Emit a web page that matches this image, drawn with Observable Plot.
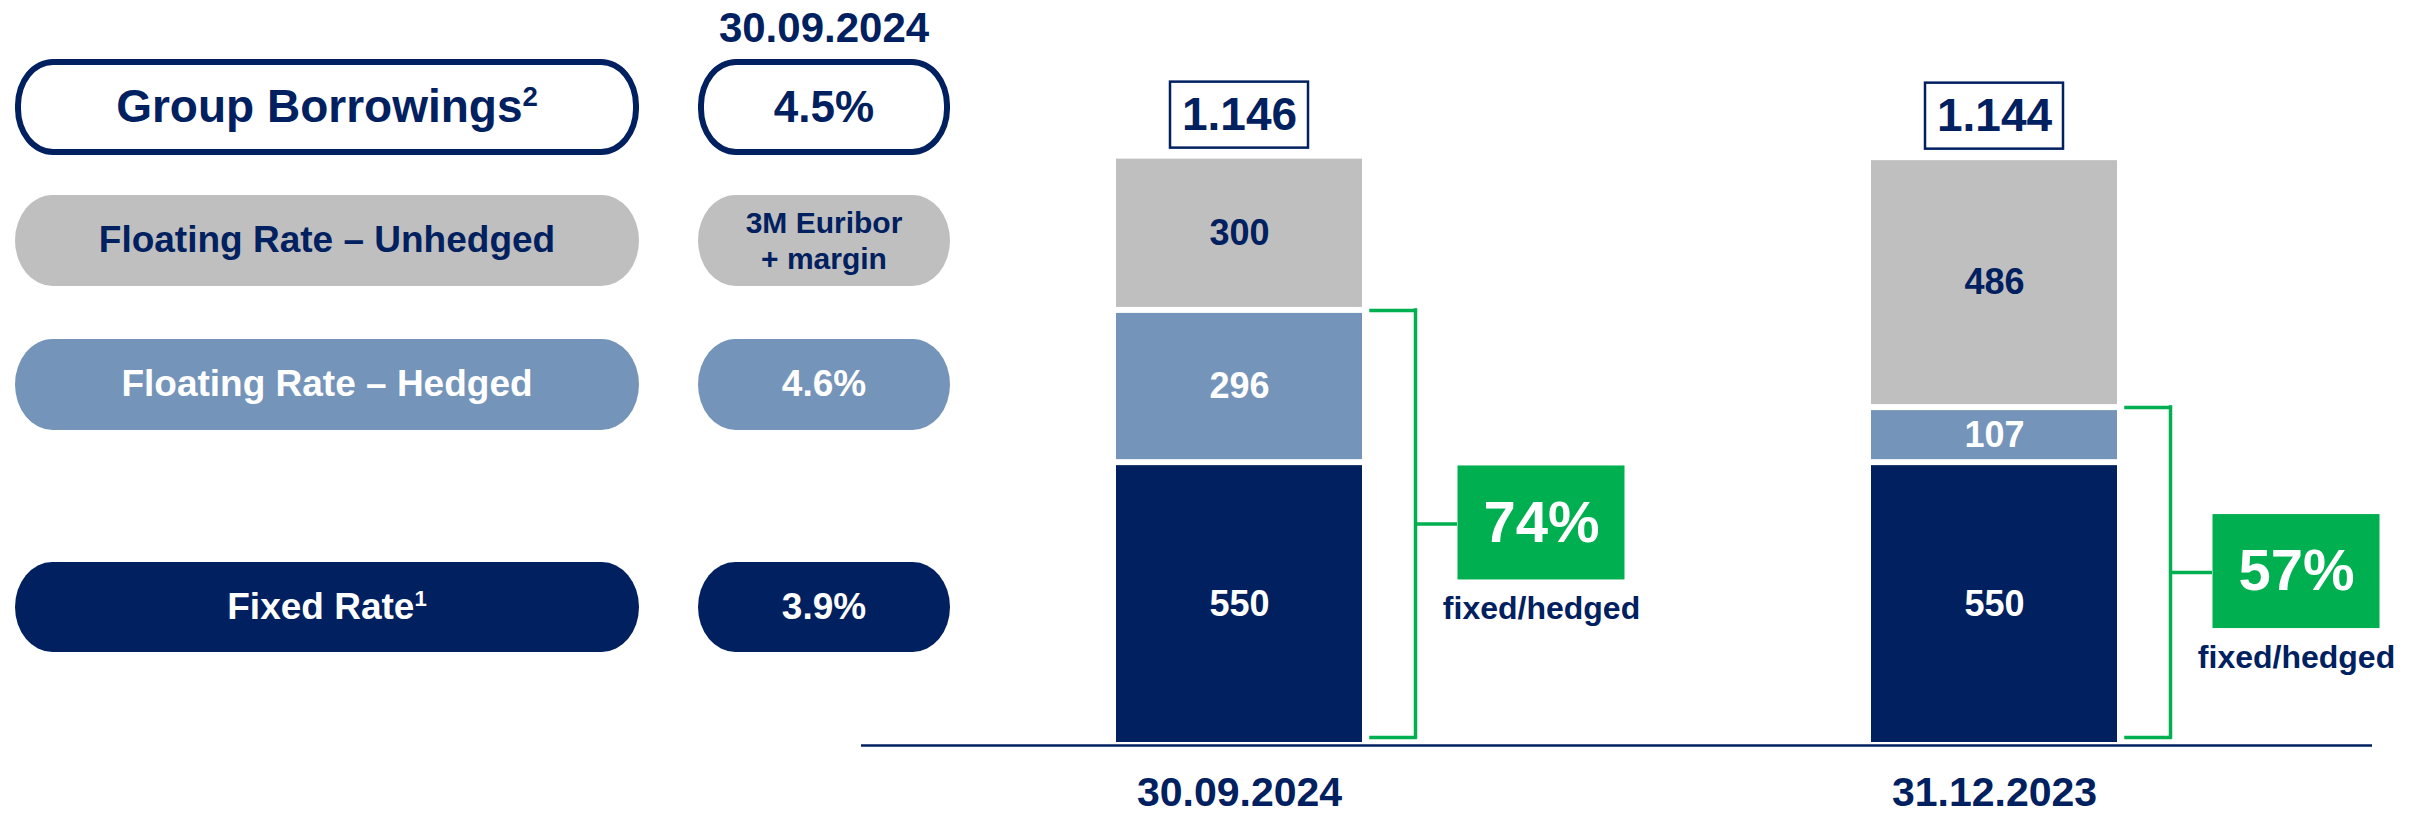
<!DOCTYPE html>
<html><head><meta charset="utf-8">
<script src="https://cdn.jsdelivr.net/npm/d3@7"></script>
<script src="https://cdn.jsdelivr.net/npm/@observablehq/plot@0.6"></script>
<style>
html,body{margin:0;padding:0;background:#fff;}
#page{position:relative;width:2425px;height:819px;overflow:hidden;font-family:"Liberation Sans",Arial,sans-serif;font-weight:700;color:#002060;}
.pill{position:absolute;box-sizing:border-box;display:flex;align-items:center;justify-content:center;text-align:center;border-radius:38px/46px;white-space:pre-line;line-height:1.2;}
.hdr{position:absolute;text-align:center;line-height:1;}
#chart{position:absolute;left:860px;top:0;}
sup{font-size:0.6em;line-height:0;position:relative;top:-0.35em;vertical-align:super;}
</style></head>
<body><div id="page"><div id="legend"></div><div id="chart"></div></div>
<script>
// ---- data ----
const dates = ["30.09.2024", "31.12.2023"];
const seriesNames = ["Fixed Rate", "Floating Rate – Hedged", "Floating Rate – Unhedged"];
const fixedRate = [550, 550];
const hedged = [296, 107];
const unhedged = [300, 486];
const totals = [1146, 1144];
const fixedHedgedShare = ["74%", "57%"];
const shareCaption = "fixed/hedged";
const seriesColors = ["#002060", "#7494BA", "#BFBFBF"];
const labelColors = ["#FFFFFF", "#FFFFFF", "#002060"];
const legendLabels = ["Group Borrowings", "Floating Rate – Unhedged", "Floating Rate – Hedged", "Fixed Rate"];
const legendSup = ["2", "", "", "1"];
const legendRates = ["4.5%", "3M Euribor\n+ margin", "4.6%", "3.9%"];
const rateDate = "30.09.2024";

const navy = "#002060", green = "#00B050";

// ---- legend (HTML) ----
const legend = document.getElementById("legend");
const hdr = document.createElement("div");
hdr.className = "hdr";
Object.assign(hdr.style, {left: "698px", width: "252px", top: "7px", fontSize: "42px"});
hdr.textContent = rateDate;
legend.appendChild(hdr);

const rowStyles = [
  {top: 59, h: 96, bg: "#FFFFFF", fg: navy, border: "6px solid " + navy, size: 46, rsize: 44},
  {top: 195, h: 91, bg: seriesColors[2], fg: labelColors[2], border: "none", size: 37, rsize: 30},
  {top: 339, h: 91, bg: seriesColors[1], fg: labelColors[1], border: "none", size: 37, rsize: 37},
  {top: 562, h: 90, bg: seriesColors[0], fg: labelColors[0], border: "none", size: 37, rsize: 37}
];
legendLabels.forEach((lab, i) => {
  const s = rowStyles[i];
  const a = document.createElement("div");
  a.className = "pill";
  Object.assign(a.style, {left: "15px", top: s.top + "px", width: "624px", height: s.h + "px",
    background: s.bg, color: s.fg, border: s.border, fontSize: s.size + "px"});
  a.textContent = lab;
  if (legendSup[i]) { const sp = document.createElement("sup"); sp.textContent = legendSup[i]; a.appendChild(sp); }
  legend.appendChild(a);
  const b = document.createElement("div");
  b.className = "pill";
  Object.assign(b.style, {left: "698px", top: s.top + "px", width: "252px", height: s.h + "px",
    background: s.bg, color: s.fg, border: s.border, fontSize: s.rsize + "px"});
  b.textContent = legendRates[i];
  legend.appendChild(b);
});

// ---- chart (Plot) ----
const values = [fixedRate, hedged, unhedged];
const segs = [];
dates.forEach((date, i) => seriesNames.forEach((s, j) =>
  segs.push({date, series: s, value: values[j][i], fill: seriesColors[j], labelFill: labelColors[j]})));
const totalData = dates.map((date, i) => ({date, total: totals[i]}));
const bracket = dates.map((date, i) => ({
  date, top: fixedRate[i] + hedged[i], mid: (fixedRate[i] + hedged[i]) / 2, share: fixedHedgedShare[i]
}));
const fmt = d3.formatLocale({decimal: ",", thousands: ".", grouping: [3], currency: ["", ""]}).format(",d");

const font = "Liberation Sans, Arial, sans-serif";
const chart = Plot.plot({
  width: 1565, height: 819,
  marginLeft: 1, marginRight: 53, marginTop: 25, marginBottom: 74,
  style: {fontFamily: font, color: navy, background: "transparent", overflow: "visible"},
  x: {domain: dates, paddingInner: 0.674, paddingOuter: 0.337, axis: null},
  y: {domain: [0, 1400], axis: null},
  color: {type: "identity"},
  marks: [
    Plot.barY(segs, {x: "date", y: "value", fill: "fill", insetTop: 3, insetBottom: 3, order: null}),
    Plot.text(segs, Plot.stackY({x: "date", y: "value", order: null, text: d => String(d.value), fill: "labelFill", fontSize: 36, fontWeight: "bold"})),
    Plot.ruleY([0], {stroke: navy, strokeWidth: 2.5}),
    Plot.axisX({tickSize: 0, tickPadding: 31, fontSize: 41, fontWeight: "bold", label: null}),
    Plot.barY(totalData, {x: "date", y1: "total", y2: "total", insetTop: -74, insetBottom: 8, insetLeft: 54, insetRight: 54, fill: "white", stroke: navy, strokeWidth: 2.5}),
    Plot.text(totalData, {x: "date", y: "total", text: d => fmt(d.total), dy: -41, fontSize: 46, fontWeight: "bold", fill: navy}),
    Plot.ruleX(bracket, {x: "date", y1: "top", y2: d => 0, dx: 176, insetBottom: 8, stroke: green, strokeWidth: 3.5, strokeLinecap: "square"}),
    Plot.tickY(bracket, {x: "date", y: "top", dx: 176, insetLeft: 79, insetRight: 123, stroke: green, strokeWidth: 3.5, strokeLinecap: "square"}),
    Plot.tickY(bracket, {x: "date", y: d => 0, dy: -8, dx: 176, insetLeft: 79, insetRight: 123, stroke: green, strokeWidth: 3.5, strokeLinecap: "square"}),
    Plot.tickY(bracket, {x: "date", y: "mid", dy: -4, dx: 176, insetLeft: 123, insetRight: 81, stroke: green, strokeWidth: 3.5}),
    Plot.barY(bracket, {x: "date", y1: "mid", y2: "mid", dy: -5, dx: 302, insetTop: -57, insetBottom: -57, insetLeft: 39.5, insetRight: 39.5, fill: green}),
    Plot.text(bracket, {x: "date", y: "mid", text: "share", dy: -5, dx: 302, fontSize: 58, fontWeight: "bold", fill: "white"}),
    Plot.text(bracket, {x: "date", y: "mid", text: d => shareCaption, dy: 81, dx: 302, fontSize: 32, fontWeight: "bold", fill: navy})
  ]
});
document.getElementById("chart").appendChild(chart);
</script>
</body></html>
